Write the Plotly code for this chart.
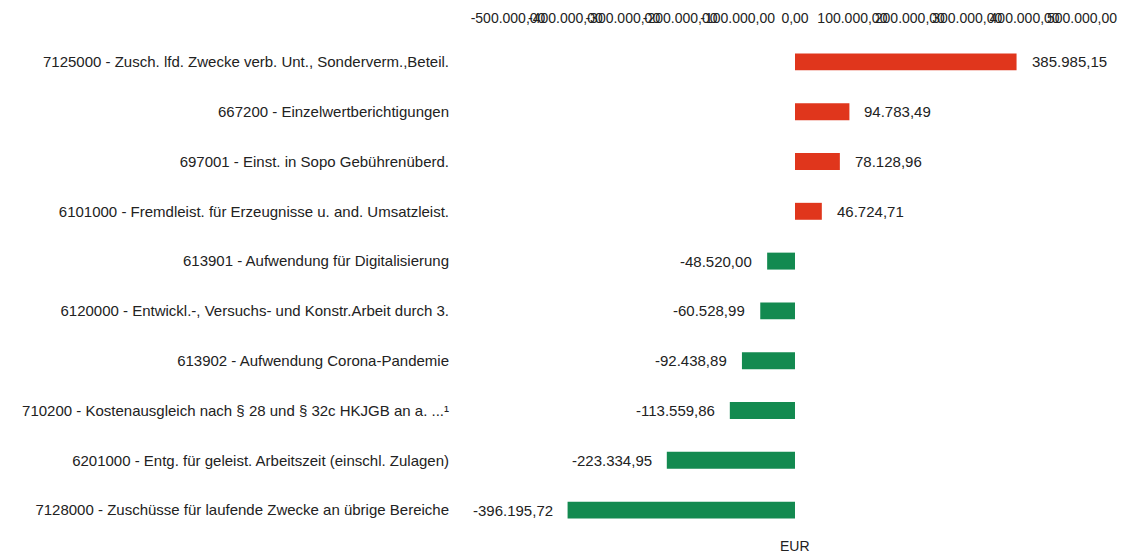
import plotly.graph_objects as go

# Categories, top to bottom
categories = [
    "7125000 - Zusch. lfd. Zwecke verb. Unt., Sonderverm.,Beteil.",
    "667200 - Einzelwertberichtigungen",
    "697001 - Einst. in Sopo Gebührenüberd.",
    "6101000 - Fremdleist. für Erzeugnisse u. and. Umsatzleist.",
    "613901 - Aufwendung für Digitalisierung",
    "6120000 - Entwickl.-, Versuchs- und Konstr.Arbeit durch 3.",
    "613902 - Aufwendung Corona-Pandemie",
    "710200 - Kostenausgleich nach § 28 und § 32c HKJGB an a. ...¹",
    "6201000 - Entg. für geleist. Arbeitszeit (einschl. Zulagen)",
    "7128000 - Zuschüsse für laufende Zwecke an übrige Bereiche",
]
values = [385985.15, 94783.49, 78128.96, 46724.71, -48520.00,
          -60528.99, -92438.89, -113559.86, -223334.95, -396195.72]
tick_vals = [-500000, -400000, -300000, -200000, -100000, 0,
             100000, 200000, 300000, 400000, 500000]


def de_fmt(v):
    # German number format, plain hyphen as minus
    return f"{v:,.2f}".replace(",", "X").replace(".", ",").replace("X", ".")


RED = "#e0361c"
GREEN = "#138a50"
colors = [RED if v >= 0 else GREEN for v in values]

fig = go.Figure(go.Bar(
    x=values, y=categories, orientation="h",
    marker=dict(color=colors, line_width=0),
    width=0.34,
))

# value labels beside the bars
for cat, v in zip(categories, values):
    fig.add_annotation(
        x=v, y=cat, xref="x", yref="y",
        text=de_fmt(v),
        showarrow=False,
        xanchor="left" if v >= 0 else "right",
        xshift=13 if v >= 0 else -13,
        font=dict(size=15, color="#222"),
    )

fig.add_annotation(
    x=0, y=0, xref="x", yref="paper", yanchor="top", yshift=-1,
    text="EUR", showarrow=False, font=dict(size=14, color="#222"),
)

fig.update_layout(
    width=1121, height=554,
    margin=dict(l=508, r=39, t=37, b=19),
    plot_bgcolor="white", paper_bgcolor="white",
    font=dict(family="Liberation Sans, Arial, sans-serif", size=15, color="#222"),
    showlegend=False,
    xaxis=dict(
        side="top", range=[-500000, 500000],
        tickmode="array", tickvals=tick_vals,
        ticktext=[de_fmt(t) for t in tick_vals],
        tickfont=dict(size=14),
        tickangle=0, automargin=False, ticklabelstandoff=10,
        showgrid=False, zeroline=False, showline=False, ticks="",
    ),
    yaxis=dict(
        autorange="reversed", showgrid=False, showline=False, ticks="",
        automargin=False, ticklabelstandoff=58,
    ),
)

# drop the default page margin so the figure fills the window
fig.write_html(
    "out.html",
    config={"displayModeBar": False},
    post_script="document.body.style.margin='0';document.body.style.overflow='hidden';",
)
